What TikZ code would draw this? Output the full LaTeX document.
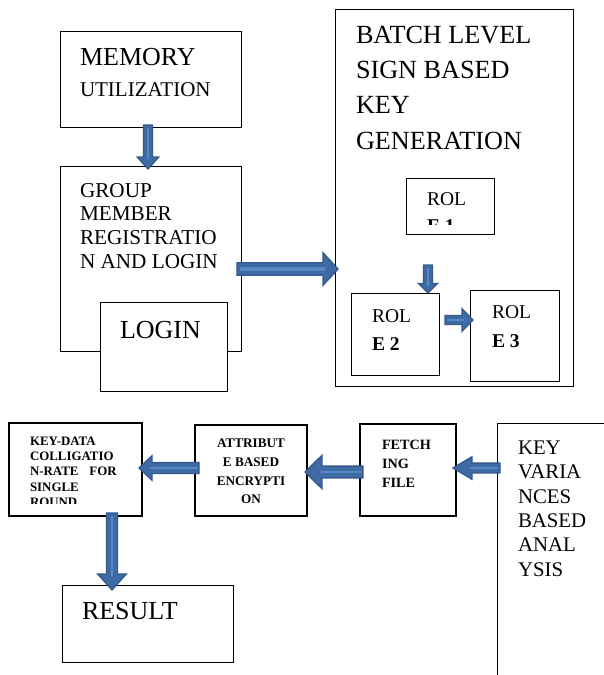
\documentclass[tikz,border=0pt]{standalone}
\usepackage{fontspec}
\setmainfont{Liberation Serif}
\usetikzlibrary{calc}
\definecolor{arrfill}{HTML}{3F6BA4}
\definecolor{arrline}{HTML}{345A8C}
\definecolor{arrhi}{HTML}{5687C6}
\tikzset{
  box/.style={draw=black, line width=1pt, fill=white, inner sep=0pt, outer sep=0pt, anchor=north west},
  txt/.style={inner sep=0pt, outer sep=0pt, anchor=north west, align=left, text=black},
  blkarr/.style={fill=arrfill, draw=arrline, line width=1.3pt, line join=miter},
}
% #1 tail, #2 tip, #3 half shaft, #4 half head, #5 head length
\newcommand\blkarrow[5]{%
  \coordinate (bah) at ($(#2)!#5!(#1)$);
  \filldraw[blkarr] ($(#1)!#3!90:(#2)$) -- ($(bah)!#3!-90:(#1)$) -- ($(bah)!#4!-90:(#1)$) -- (#2)
     -- ($(bah)!#4!90:(#1)$) -- ($(bah)!#3!90:(#1)$) -- ($(#1)!#3!-90:(#2)$) -- cycle;
  \draw[arrhi, line width=0.5*#3] ($(#1)!2.5pt!(#2)$) -- ($(bah)!2pt!(#2)$);
}
\begin{document}
\begin{tikzpicture}[x=1pt,y=-1pt]
\fill[white] (0,0) rectangle (604,675);
\useasboundingbox (0,0) rectangle (604,675);

% boxes
\node[box, minimum width=181pt, minimum height=96pt] (mem) at (60,31) {};
\node[box, minimum width=181pt, minimum height=185pt] (grp) at (60,166) {};
\node[box, minimum width=127pt, minimum height=89pt] (login) at (100,302) {};
\node[box, minimum width=238pt, minimum height=377pt] (batch) at (335,9) {};
\node[box, minimum width=88pt, minimum height=56pt] (r1) at (406,178) {};
\node[box, minimum width=88pt, minimum height=82pt] (r2) at (351,293) {};
\node[box, minimum width=89pt, minimum height=91pt] (r3) at (470,290) {};
\node[box, line width=1.4pt, minimum width=133pt, minimum height=93pt] (kd) at (9,423) {};
\node[box, line width=2pt, minimum width=112pt, minimum height=91pt] (attr) at (195,425) {};
\node[box, line width=2pt, minimum width=96pt, minimum height=92pt] (fetch) at (360,424) {};
\node[inner sep=0pt, outer sep=0pt, anchor=north west, minimum width=110pt, minimum height=255pt] (kv) at (497,423) {};
\draw[line width=1pt] (kv.south west) -- (kv.north west) -- (kv.north east);
\node[box, minimum width=171pt, minimum height=77pt] (rs) at (62,585) {};

% texts
\node[txt, font=\fontsize{26}{30}\selectfont] (memt) at ($(mem.north west)+(20,17)$) {MEMORY};
\node[txt, font=\fontsize{21}{24}\selectfont] (memu) at ($(mem.north west)+(20,52)$) {UTILIZATION};
\node[txt, font=\fontsize{21.2}{23.7}\selectfont] (grpt) at ($(grp.north west)+(20,17)$) {GROUP\\MEMBER\\REGISTRATIO\\N AND LOGIN};
\node[txt, font=\fontsize{26}{30}\selectfont] (logint) at ($(login.north west)+(20,19)$) {LOGIN};
\node[txt, font=\fontsize{26.2}{35.3}\selectfont] (batcht) at ($(batch.north west)+(21,17)$) {BATCH LEVEL\\SIGN BASED\\KEY\\GENERATION};
\begin{scope}
  \clip (r1.north west) rectangle ($(r1.south east)+(0,-10)$);
  \node[txt, font=\fontsize{19.5}{26.5}\selectfont] (r1t) at ($(r1.north west)+(21,15)$) {ROL\\\textbf{E 1}};
\end{scope}
\node[txt, font=\fontsize{19.5}{28}\selectfont] (r2t) at ($(r2.north west)+(21,17)$) {ROL\\\textbf{E 2}};
\node[txt, font=\fontsize{19.5}{28.5}\selectfont] (r3t) at ($(r3.north west)+(22,16)$) {ROL\\\textbf{E 3}};
\begin{scope}
  \clip (kd.north west) rectangle ($(kd.south east)+(0,-13)$);
  \node[txt, font={\fontsize{12.9}{15.2}\selectfont\bfseries}] (kdt) at ($(kd.north west)+(21,14)$) {KEY-DATA\\COLLIGATIO\\N-RATE\hspace{11pt}FOR\\SINGLE\\ROUND};
\end{scope}
\node[txt, anchor=north, align=center, font={\fontsize{13.2}{18.7}\selectfont\bfseries}] (attrt) at ($(attr.north)+(0,14)$) {ATTRIBUT\\E BASED\\ENCRYPTI\\ON};
\node[txt, font={\fontsize{14.2}{19}\selectfont\bfseries}] (fetcht) at ($(fetch.north west)+(22,16)$) {FETCH\\ING\\FILE};
\node[txt, font=\fontsize{20.8}{24.3}\selectfont] (kvt) at ($(kv.north west)+(21,18)$) {KEY\\VARIA\\NCES\\BASED\\ANAL\\YSIS};
\node[txt, font=\fontsize{26}{30}\selectfont] (rst) at ($(rs.north west)+(20,17)$) {RESULT};

% block arrows
\coordinate (a1s) at ($(mem.south)+(-2.5,-2)$);
\coordinate (a1e) at ($(a1s |- grp.north)+(0,3)$);
\blkarrow{a1s}{a1e}{4.4pt}{10.8pt}{12pt}

\coordinate (a2s) at ($(grp.east)+(-4,10.5)$);
\coordinate (a2e) at ($(a2s -| batch.west)+(3,0)$);
\blkarrow{a2s}{a2e}{6.3pt}{16.3pt}{15pt}

\coordinate (a3s) at ($(r1.south)+(-22,31)$);
\coordinate (a3e) at (a3s |- r2.north);
\blkarrow{a3s}{a3e}{4.4pt}{9.4pt}{9.5pt}

\coordinate (a4s) at ($(r2.east)+(6,-14)$);
\coordinate (a4e) at ($(a4s -| r3.west)+(3,0)$);
\blkarrow{a4s}{a4e}{4.4pt}{11.3pt}{11pt}

\coordinate (a5s) at ($(attr.west)+(4,-2.5)$);
\coordinate (a5e) at ($(a5s -| kd.east)+(-3,0)$);
\blkarrow{a5s}{a5e}{5.4pt}{12.3pt}{13pt}

\coordinate (a6s) at ($(fetch.west)+(3,2)$);
\coordinate (a6e) at ($(a6s -| attr.east)+(-2,0)$);
\blkarrow{a6s}{a6e}{5.9pt}{16.8pt}{17pt}

\coordinate (a7s) at ($(kv.north west)+(3,45)$);
\coordinate (a7e) at ($(a7s -| fetch.east)+(-3,0)$);
\blkarrow{a7s}{a7e}{4.9pt}{11.3pt}{19pt}

\coordinate (a8s) at ($(kd.south)+(36.5,-3)$);
\coordinate (a8e) at ($(a8s |- rs.north)+(0,5)$);
\blkarrow{a8s}{a8e}{5.4pt}{14.3pt}{16pt}
\end{tikzpicture}
\end{document}
